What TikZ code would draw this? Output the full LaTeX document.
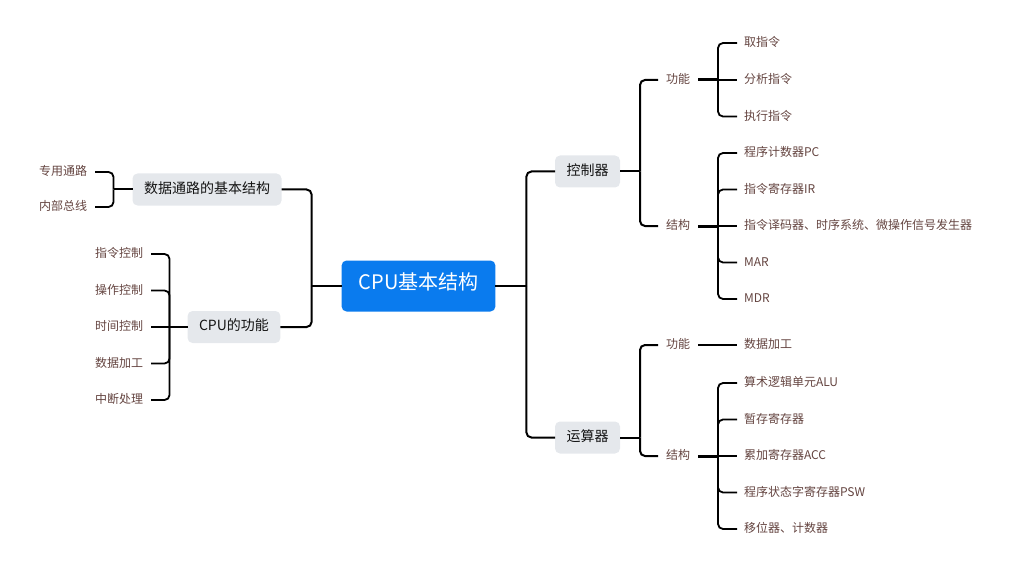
\documentclass[tikz,border=0pt]{standalone}
\usepackage{fontspec}
\usetikzlibrary{calc}
\newfontfamily\cjk{Noto Sans CJK SC}
\definecolor{rootblue}{RGB}{10,123,238}
\definecolor{boxgray}{RGB}{229,232,236}
\definecolor{leafbrown}{RGB}{100,68,64}
\definecolor{midtext}{RGB}{20,20,20}
\tikzset{
  allnode/.style={inner ysep=0pt, outer sep=0pt, text height=0.83em, text depth=0.07em},
  rootbox/.style={allnode, fill=rootblue, rounded corners=5pt, text=white, font=\cjk\fontsize{20}{24}\selectfont, inner xsep=17pt, minimum height=51pt},
  midbox/.style={allnode, fill=boxgray, rounded corners=5pt, text=midtext, font=\cjk\fontsize{14}{17}\selectfont, inner xsep=11.5pt, minimum height=32pt},
  lab/.style={allnode, text=leafbrown, font=\cjk\fontsize{12}{14}\selectfont, inner xsep=8pt},
  rleaf/.style={allnode, text=leafbrown, font=\cjk\fontsize{12}{14}\selectfont, inner xsep=7pt, anchor=west},
  lleaf/.style={allnode, text=leafbrown, font=\cjk\fontsize{12}{14}\selectfont, inner xsep=8pt, anchor=east},
  conn/.style={draw=black, line width=2pt, rounded corners=5pt},
  leafconn/.style={draw=black, line width=1.8pt, rounded corners=5pt},
  stub/.style={draw=black, line width=2pt},
  thickstub/.style={draw=black, line width=3pt},
}
\begin{document}
\begin{tikzpicture}[x=1pt,y=-1pt]
\useasboundingbox (0,0) rectangle (1011,572);
% root
\node[rootbox] (root) at (418.5,286) {CPU基本结构};
% second level
\node[midbox] (kzq) at (587.5,171.5) {控制器};
\node[midbox] (ysq) at (587.5,437.5) {运算器};
\node[midbox] (sjtl) at (207,189.5) {数据通路的基本结构};
\node[midbox] (cpugn) at (234,327) {CPU的功能};
% third level labels
\node[lab] (kg) at (678,80) {功能};
\node[lab] (kj) at (678,226) {结构};
\node[lab] (yg) at (678,345) {功能};
\node[lab] (yj) at (678,456) {结构};
% right leaves
\node[rleaf] (k1) at (737,43) {取指令};
\node[rleaf] (k2) at (737,80) {分析指令};
\node[rleaf] (k3) at (737,116.5) {执行指令};
\node[rleaf] (k4) at (737,153) {程序计数器PC};
\node[rleaf] (k5) at (737,189.5) {指令寄存器IR};
\node[rleaf] (k6) at (737,226) {指令译码器、时序系统、微操作信号发生器};
\node[rleaf] (k7) at (737,262.5) {MAR};
\node[rleaf] (k8) at (737,299) {MDR};
\node[rleaf] (y1) at (737,345) {数据加工};
\node[rleaf] (y2) at (737,383) {算术逻辑单元ALU};
\node[rleaf] (y3) at (737,419.5) {暂存寄存器};
\node[rleaf] (y4) at (737,456) {累加寄存器ACC};
\node[rleaf] (y5) at (737,492.5) {程序状态字寄存器PSW};
\node[rleaf] (y6) at (737,529) {移位器、计数器};
% left leaves
\node[lleaf] (s1) at (95,172) {专用通路};
\node[lleaf] (s2) at (95,207) {内部总线};
\node[lleaf] (c1) at (151,254) {指令控制};
\node[lleaf] (c2) at (151,290.5) {操作控制};
\node[lleaf] (c3) at (151,327) {时间控制};
\node[lleaf] (c4) at (151,363.5) {数据加工};
\node[lleaf] (c5) at (151,400) {中断处理};
% junction points
\coordinate (jr) at ($(root.east)+(31,0)$);
\coordinate (jl) at ($(root.west)+(-30,0)$);
\coordinate (jkzq) at ($(kzq.east)+(20,0)$);
\coordinate (jysq) at ($(ysq.east)+(20,0)$);
\coordinate (jsjtl) at ($(sjtl.west)+(-19,0)$);
\coordinate (jcpu) at ($(cpugn.west)+(-18,0)$);
\coordinate (jkg) at ($(kg.east)+(20,0)$);
\coordinate (jkj) at ($(kj.east)+(20,0)$);
\coordinate (jyj) at ($(yj.east)+(20,0)$);
% stubs from parents to junctions
\draw[stub] (root.east) -- (jr);
\draw[stub] (root.west) -- (jl);
\draw[stub] (kzq.east) -- (jkzq);
\draw[stub] (ysq.east) -- (jysq);
\draw[stub] (sjtl.west) -- (jsjtl);
\draw[stub] (cpugn.west) -- (jcpu);
\draw[thickstub] (kg.east) -- (jkg);
\draw[thickstub] (kj.east) -- (jkj);
\draw[thickstub] (yj.east) -- (jyj);
% root connectors
\foreach \c in {kzq,ysq} \draw[conn] (jr) |- (\c.west);
\foreach \c in {sjtl,cpugn} \draw[conn] (jl) |- (\c.east);
% second level connectors
\foreach \c in {kg,kj} \draw[conn] (jkzq) |- (\c.west);
\foreach \c in {yg,yj} \draw[conn] (jysq) |- (\c.west);
\foreach \c in {s1,s2} \draw[leafconn] (jsjtl) |- (\c.east);
\foreach \c in {c1,c2,c4,c5} \draw[leafconn] (jcpu) |- (\c.east);
\draw[leafconn] (jcpu) -- (c3.east);
% third level connectors
\foreach \c in {k1,k3} \draw[leafconn] (jkg) |- (\c.west);
\draw[leafconn] (jkg) -- (k2.west);
\foreach \c in {k4,k5,k7,k8} \draw[leafconn] (jkj) |- (\c.west);
\draw[leafconn] (jkj) -- (k6.west);
\draw[conn] (yg.east) -- (y1.west);
\foreach \c in {y2,y3,y5,y6} \draw[leafconn] (jyj) |- (\c.west);
\draw[leafconn] (jyj) -- (y4.west);
\end{tikzpicture}
\end{document}
